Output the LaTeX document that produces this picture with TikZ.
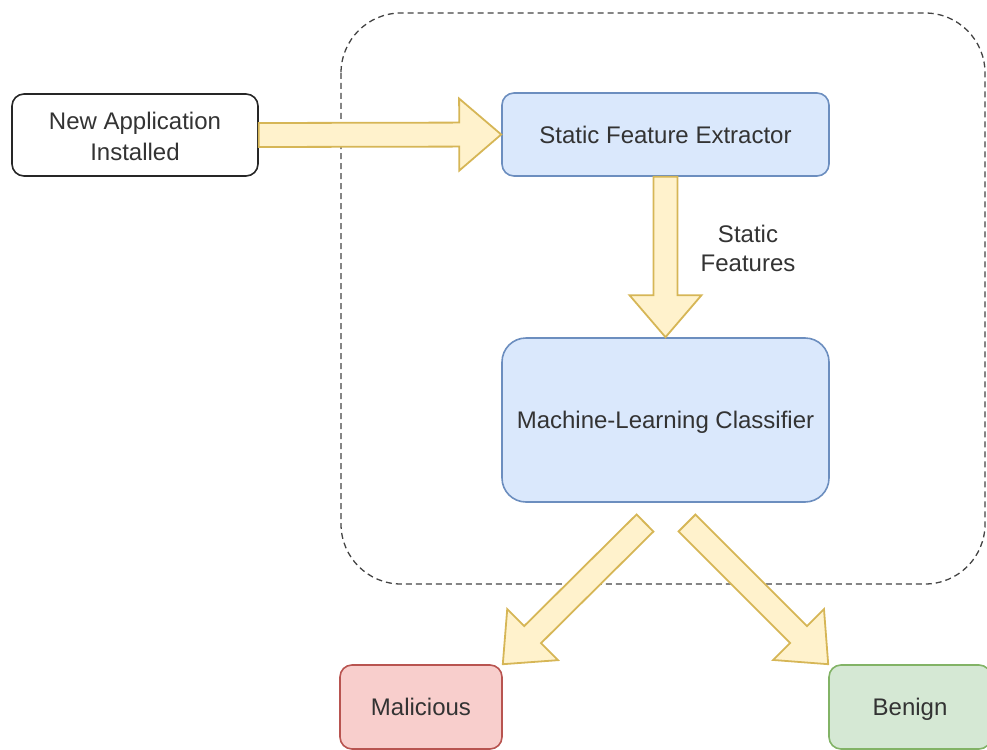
\documentclass[tikz,border=0pt]{standalone}
\usepackage{fontspec}
\setmainfont{Liberation Sans}
\usetikzlibrary{calc}

\definecolor{txt}{HTML}{333333}
\definecolor{blueFill}{HTML}{DAE8FC}
\definecolor{blueLine}{HTML}{6C8EBF}
\definecolor{redFill}{HTML}{F8CECC}
\definecolor{redLine}{HTML}{B85450}
\definecolor{greenFill}{HTML}{D5E8D4}
\definecolor{greenLine}{HTML}{82B366}
\definecolor{arrowFill}{HTML}{FFF2CC}
\definecolor{arrowLine}{HTML}{D6B656}
\definecolor{frameLine}{HTML}{444444}

\tikzset{
  box/.style={draw, line width=1.6pt, rounded corners=12pt, inner sep=0pt,
    font=\fontsize{24}{31}\selectfont, text=txt, align=center},
  onebox/.style={box, text height=17pt, text depth=0pt},
  plainbox/.style={box, draw=black!85, fill=white},
  bluebox/.style={onebox, draw=blueLine, fill=blueFill},
  redbox/.style={onebox, draw=redLine, fill=redFill},
  greenbox/.style={onebox, draw=greenLine, fill=greenFill},
  fatarrowstyle/.style={draw=arrowLine, fill=arrowFill, line width=1.8pt, line join=miter},
  frame/.style={draw=frameLine, line width=1.3pt, dash pattern=on 6pt off 4pt, rounded corners=60pt},
  label/.style={font=\fontsize{24}{29}\selectfont, text=txt, align=center}
}

% block arrow from #1 to #2: shaft 24 wide, head 72 wide and 42 long
\newcommand\fatarrow[2]{%
  \path ($(#2)!42pt!(#1)$) coordinate (fah);
  \draw[fatarrowstyle] ($(#1)!12pt!-90:(#2)$) -- ($(fah)!12pt!-90:(#2)$)
    -- ($(fah)!36pt!-90:(#2)$) -- (#2) -- ($(fah)!36pt!90:(#2)$)
    -- ($(fah)!12pt!90:(#2)$) -- ($(#1)!12pt!90:(#2)$) -- cycle;}

\begin{document}
\begin{tikzpicture}[x=1pt, y=-1pt]
  \useasboundingbox (0,0) rectangle (987,749);

  % dashed system boundary
  \draw[frame] (341,13) rectangle (985,584);

  % nodes
  \node[plainbox, minimum width=246pt, minimum height=82pt, text height=52pt] (newapp) at (135,135) {New Application\\Installed};
  \node[bluebox, minimum width=327pt, minimum height=83pt] (sfe) at (665.5,134.5) {Static Feature Extractor};
  \node[bluebox, rounded corners=24pt, minimum width=327pt, minimum height=164pt] (mlc) at (665.5,420) {Machine-Learning Classifier};
  \node[redbox, minimum width=162pt, minimum height=84pt] (mal) at (421,707) {Malicious};
  \node[greenbox, minimum width=162pt, minimum height=84pt] (ben) at (910,707) {Benign};

  \node[label] (lbl) at (748,248) {Static\\Features};

  % connectors
  \coordinate (malsrc) at (645,523);
  \coordinate (bensrc) at (687,523);
  \fatarrow{newapp.east}{sfe.west}
  \fatarrow{sfe.south}{mlc.north}
  \fatarrow{malsrc}{mal.north east}
  \fatarrow{bensrc}{ben.north west}
\end{tikzpicture}
\end{document}
